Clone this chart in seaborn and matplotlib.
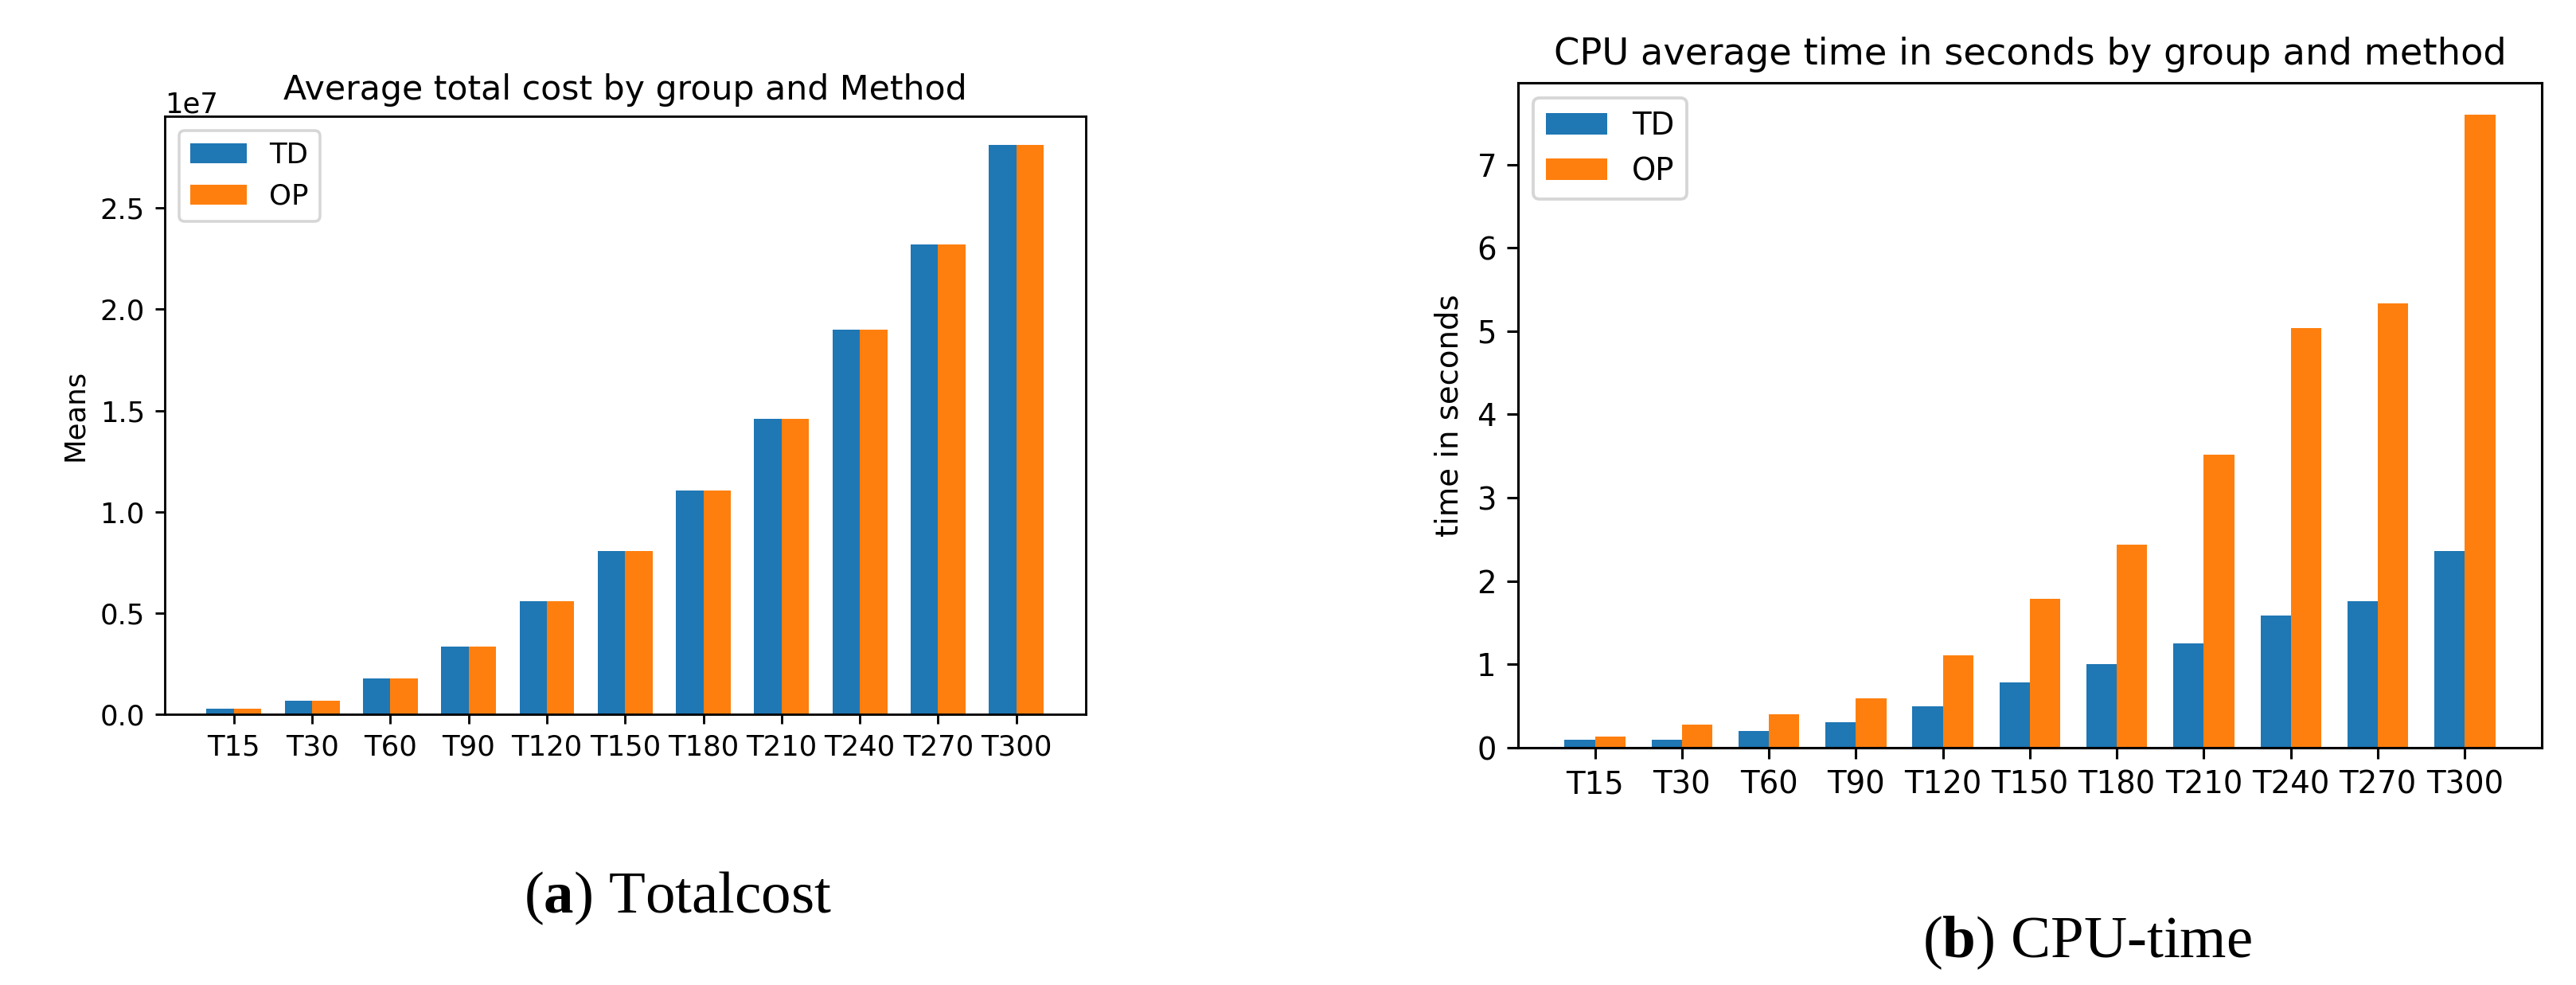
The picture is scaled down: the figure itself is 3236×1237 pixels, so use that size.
import pandas as pd
import seaborn as sns
import matplotlib.pyplot as plt

# Values.
groups = ["T15", "T30", "T60", "T90", "T120", "T150", "T180", "T210", "T240", "T270", "T300"]
methods = ["TD", "OP"]
cost_td = [0.28e6, 0.68e6, 1.78e6, 3.36e6, 5.57e6, 8.07e6, 11.06e6, 14.60e6, 19.01e6, 23.22e6, 28.13e6]
cost_op = [0.28e6, 0.65e6, 1.78e6, 3.36e6, 5.57e6, 8.07e6, 11.06e6, 14.60e6, 19.01e6, 23.22e6, 28.13e6]
cpu_td = [0.10, 0.10, 0.20, 0.31, 0.50, 0.78, 1.00, 1.25, 1.59, 1.76, 2.36]
cpu_op = [0.13, 0.28, 0.40, 0.59, 1.11, 1.79, 2.44, 3.52, 5.04, 5.33, 7.60]
colors = ["#1f77b4", "#ff7f0e"]

plt.rcParams["mathtext.fontset"] = "custom"
plt.rcParams["mathtext.rm"] = "Liberation Serif"
plt.rcParams["mathtext.bf"] = "Liberation Serif:bold"


def long_table(td, op):
    return pd.DataFrame({
        "group": groups * 2,
        "Method": [methods[0]] * len(groups) + [methods[1]] * len(groups),
        "value": list(td) + list(op),
    })


def draw(ax, df, s, title, ylabel):
    """Grouped bars, styled like a default matplotlib figure scaled by s."""
    sns.barplot(data=df, x="group", y="value", hue="Method", order=groups,
                hue_order=methods, palette=colors, saturation=1,
                errorbar=None, width=0.7, linewidth=0, ax=ax)
    n = len(groups)
    ax.set_xlim(-0.35 - 0.0535 * 10, n - 1 + 0.35 + 0.0535 * 10)
    ax.set_xlabel("")
    ax.set_ylabel(ylabel, fontsize=10 * s, labelpad=4 * s)
    ax.set_title(title, fontsize=12 * s, pad=6 * s)
    ax.tick_params(labelsize=10 * s, length=3.5 * s, width=0.8 * s, pad=3.5 * s)
    for sp in ax.spines.values():
        sp.set_linewidth(0.8 * s)
        sp.set_visible(True)
    ax.yaxis.get_offset_text().set_fontsize(10 * s)
    old = ax.get_legend()
    handles = old.legend_handles
    labels = [t.get_text() for t in old.get_texts()]
    leg = ax.legend(handles, labels, loc="upper left", fontsize=10 * s, title=None)
    leg.get_frame().set_linewidth(1.0 * s)


fig = plt.figure(figsize=(32.37, 12.37), dpi=100)
ax1 = fig.add_axes([0.0639, 0.2749, 0.3574, 0.6071])
ax2 = fig.add_axes([0.5891, 0.2409, 0.3973, 0.6750])

draw(ax1, long_table(cost_td, cost_op), 2.56, "Average total cost by group and Method", "Means")
draw(ax2, long_table(cpu_td, cpu_op), 2.78, "CPU average time in seconds by group and method", "time in seconds")

fig.text(0.2629, 0.0736, r"($\mathbf{a}$) Totalcost", family="Liberation Serif",
         fontsize=54, ha="center", va="baseline")
fig.text(0.810, 0.0283, r"($\mathbf{b}$) CPU-time", family="Liberation Serif",
         fontsize=54, ha="center", va="baseline")

fig.savefig("out.png", dpi=100)
